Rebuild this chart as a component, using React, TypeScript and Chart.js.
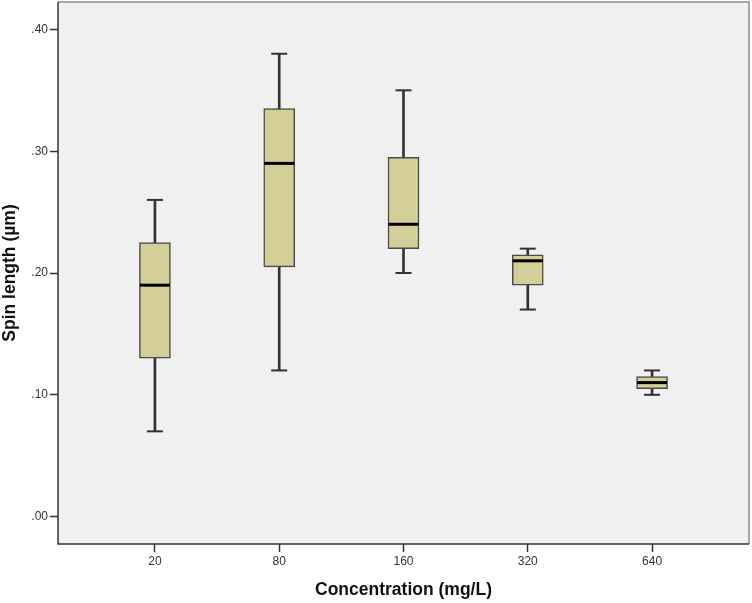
import React, { useEffect, useRef } from "react";
import { Chart, registerables } from "chart.js";

Chart.register(...registerables);

const categories = ["20", "80", "160", "320", "640"];
const whiskerLow = [0.07, 0.12, 0.2, 0.17, 0.1];
const q1 = [0.13, 0.205, 0.22, 0.19, 0.105];
const median = [0.19, 0.29, 0.24, 0.21, 0.11];
const q3 = [0.225, 0.335, 0.295, 0.215, 0.115];
const whiskerHigh = [0.26, 0.38, 0.35, 0.22, 0.12];
const yTicks = [0, 0.1, 0.2, 0.3, 0.4];

const FONT = "'Liberation Sans', Arial, sans-serif";

const plotBg = {
  id: "plotBg",
  beforeDraw(chart: any) {
    const { ctx, chartArea: a } = chart;
    ctx.save();
    ctx.fillStyle = "#F0F0F0";
    ctx.fillRect(a.left, a.top, a.right - a.left, a.bottom - a.top);
    ctx.restore();
  },
  afterDraw(chart: any) {
    const { ctx, chartArea: a } = chart;
    ctx.save();
    ctx.lineWidth = 1.5;
    ctx.strokeStyle = "#8a8a8a";
    ctx.beginPath();
    ctx.moveTo(a.left, a.top);
    ctx.lineTo(a.right, a.top);
    ctx.lineTo(a.right, a.bottom);
    ctx.stroke();
    ctx.strokeStyle = "#333333";
    ctx.beginPath();
    ctx.moveTo(a.left, a.top);
    ctx.lineTo(a.left, a.bottom);
    ctx.lineTo(a.right, a.bottom);
    ctx.stroke();
    ctx.restore();
  },
};

export default function App() {
  const ref = useRef<HTMLCanvasElement>(null);
  useEffect(() => {
    const idx = categories.map((_, i) => i);
    const chart = new Chart(ref.current as HTMLCanvasElement, {
      type: "bar",
      data: {
        datasets: [
          {
            type: "bar",
            label: "whisker",
            data: idx.map((i) => ({ x: i, y: [whiskerLow[i], whiskerHigh[i]] })) as any,
            backgroundColor: "#333333",
            borderWidth: 0,
            barThickness: 2,
            grouped: false,
            order: 3,
          } as any,
          {
            type: "bar",
            label: "box",
            data: idx.map((i) => ({ x: i, y: [q1[i], q3[i]] })) as any,
            backgroundColor: "#D4CF98",
            borderColor: "#4a4a4a",
            borderWidth: 1.5,
            borderSkipped: false,
            barThickness: 31,
            grouped: false,
            order: 2,
          } as any,
          {
            type: "line",
            label: "caps",
            data: [
              ...idx.map((i) => ({ x: i, y: whiskerLow[i] })),
              ...idx.map((i) => ({ x: i, y: whiskerHigh[i] })),
            ],
            showLine: false,
            pointStyle: "line",
            pointRadius: 8,
            pointBorderWidth: 2,
            pointBorderColor: "#333333",
            order: 1,
          } as any,
          {
            type: "line",
            label: "median",
            data: idx.map((i) => ({ x: i, y: median[i] })),
            showLine: false,
            pointStyle: "line",
            pointRadius: 15,
            pointBorderWidth: 3,
            pointBorderColor: "#000000",
            order: 0,
          } as any,
        ],
      },
      options: {
        responsive: false,
        animation: false,
        layout: { autoPadding: false, padding: { top: 2, right: 3, left: 0, bottom: 0 } },
        plugins: {
          legend: { display: false },
          tooltip: { enabled: false },
        },
        scales: {
          x: {
            type: "linear",
            offset: false,
            min: -0.78,
            max: 4.78,
            afterBuildTicks: (s: any) => {
              s.ticks = idx.map((v) => ({ value: v }));
            },
            afterFit: (s: any) => {
              s.height = 59;
              s.paddingLeft = 0;
              s.paddingRight = 0;
            },
            grid: {
              display: true,
              offset: false,
              drawOnChartArea: false,
              drawTicks: true,
              tickLength: 8,
              tickWidth: 1.5,
              tickColor: "#333333",
            },
            border: { display: false },
            ticks: {
              padding: 2,
              color: "#333333",
              font: { family: FONT, size: 12 },
              maxRotation: 0,
              callback: (v: any) => categories[Math.round(v)] ?? "",
            },
            title: {
              display: true,
              text: "Concentration (mg/L)",
              color: "#111111",
              font: { family: FONT, size: 17.5, weight: "bold" },
              padding: { top: 0, bottom: 2 },
            },
          },
          y: {
            type: "linear",
            min: -0.0225,
            max: 0.4225,
            afterBuildTicks: (s: any) => {
              s.ticks = yTicks.map((v) => ({ value: v }));
            },
            afterFit: (s: any) => {
              s.width = 58;
              s.paddingTop = 0;
              s.paddingBottom = 0;
            },
            grid: {
              display: true,
              drawOnChartArea: false,
              drawTicks: true,
              tickLength: 8,
              tickWidth: 1.5,
              tickColor: "#333333",
            },
            border: { display: false },
            ticks: {
              padding: 2,
              color: "#333333",
              font: { family: FONT, size: 12 },
              callback: (v: any) => Number(v).toFixed(2).replace(/^0/, ""),
            },
            title: {
              display: true,
              text: "Spin length (µm)",
              color: "#111111",
              font: { family: FONT, size: 17.5, weight: "bold" },
              padding: { top: 0, bottom: 0 },
            },
          },
        },
      },
      plugins: [plotBg],
    });
    return () => chart.destroy();
  }, []);
  return (
    <div style={{ position: "fixed", left: 0, top: 0, width: 752, height: 603, background: "#fff" }}>
      <canvas ref={ref} width={752} height={603} style={{ display: "block" }} />
    </div>
  );
}
